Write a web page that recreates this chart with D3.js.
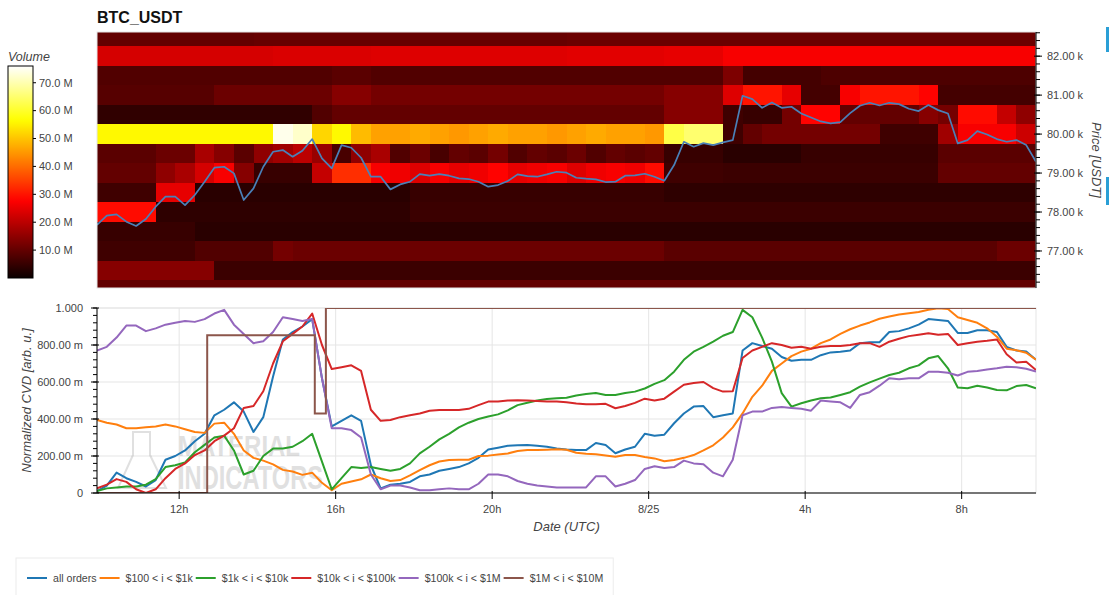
<!DOCTYPE html>
<html><head><meta charset="utf-8">
<script src="https://cdn.jsdelivr.net/npm/d3@7"></script>
<style>
body{margin:0;background:#fff;overflow:hidden;}
svg text{font-family:"Liberation Sans",Arial,Helvetica,sans-serif;}
</style></head><body>
<svg id="chart" width="1109" height="595"></svg>
<script>
// ---------------- DATA ----------------
const startTime = "2024-08-24T09:54:00Z";
const endTime   = "2024-08-25T09:54:00Z";
const sampleStepMinutes = 15;   // CVD + price samples
const heatStepMinutes = 30;     // heatmap columns
const priceBinSize = 500;

const xTickLabels = ["12h","16h","20h","8/25","4h","8h"];
const priceTickValues = [77000,78000,79000,80000,81000,82000];
const priceTickLabels = ["77.00 k","78.00 k","79.00 k","80.00 k","81.00 k","82.00 k"];
const cvdTickValues = [0,0.2,0.4,0.6,0.8,1.0];
const cvdTickLabels = ["0","200.00 m","400.00 m","600.00 m","800.00 m","1.000"];
const volTickValues = [10,20,30,40,50,60,70];
const volTickLabels = ["10.0 M","20.0 M","30.0 M","40.0 M","50.0 M","60.0 M","70.0 M"];
const volMax = 76;

const priceBins = [82500,82000,81500,81000,80500,80000,79500,79000,78500,78000,77500,77000,76500,76000];
// volume (millions) per 30-min column
const vol82500 = [10,10,10,10,10,10,10,10,10.5,10.5,10.5,10.5,10.5,10.5,10.5,10.5,10.5,10.5,10.5,10.5,10.5,10.5,10.5,10.5,11,11,11,11,11,11,11,11,11,11,11,11,11,11,11,11,11,11,11,11,11,11,11,11];
const vol82000 = [23,23,23,23,23,23,23,23,23,23.5,23.5,23.5,23.5,23.5,24,24,24,24,24,24,24,24,24,24,24.5,24.5,24.5,24.5,24.5,25,25,25,27,27,27,27,27,27,27,27,27,27,27,27,27,27,27,27];
const vol81500 = [8,8,8,8,8,8,8,8,8,8,8,8,9,9,8,8,8,8,8,8,8,8,8,8,8,8,8,8,8,8,8,8,13,6.5,6.5,6.5,6.5,7.5,7.5,7.5,7.5,7.5,7.5,7.5,7.5,7.5,7.5,7.5];
const vol81000 = [8.6,8.6,8.6,8.6,8.6,8.6,10.9,10.9,10.9,10.9,11,11,14,14,12,12,12,12,12,12,12,12,12,12,12,12,12,12,12,14,14,14,24,30,30,25,6.5,6.5,27,30,30,30,28,6.5,6.5,6.5,6.5,6.5];
const vol80500 = [4.3,4.3,4.3,4.3,4.3,4.3,4.3,4.3,4.3,4.3,4.3,8,10,10,10,10,10,10,10,10,10,10,10,10,10,10,10,10,10,14,14,14,6,5,5,12,28,28,10,10,10,10,14,12,29,29,21,15];
const vol80000 = [56,56,56,56,56,56,56,56,56,74.5,72,52,56,49,46,46,47,46,45,46,47,46,46,45,46,47,46,46,45,62,65,65,6,10,12,12,12,12,12,12,6,6,6,17,27,27,27,22];
const vol79500 = [9,9,9,11,11,18,14,9,15,17,20,16,7,15,18,8,11,7,10,9,12,8,10,9,11,8,10,9,10,5,5,5,3.5,3.5,3.5,3.5,5,5,5,5,5,5,5,9,9,9,9,9];
const vol79000 = [10,10,10,15,18,23,27,14,5,5,5,21,33,33,27,26,24,27,25,26,28,25,26,27,24,26,27,26,29,6,6,6,5.5,5.5,5.5,5.5,5.5,5.5,5.5,5.5,5.5,5.5,5.5,10,10,10,10,10];
const vol78500 = [6,6,6,25,25,3.5,3.5,3.5,3.5,3.5,3.5,3.5,3.5,3.5,3.5,3.5,5,5,5,5,5,5,5,5,5,5,5,5,5,4,4,4,4,4,4,4,4,4,4,4,4,4,4,4,4,4,4,4];
const vol78000 = [29,29,29,4,4,4,4,4,4,4,4,4,4,4,4,4,5.5,5.5,5.5,5.5,5.5,5.5,5.5,5.5,5.5,5.5,5.5,5.5,5.5,5.5,5.5,5.5,5.5,5.5,5.5,5.5,5.5,5.5,5.5,5.5,5.5,5.5,5.5,5.5,5.5,5.5,5.5,5.5];
const vol77500 = [5,5,5,5,5,3.5,3.5,3.5,3.5,3.5,3.5,3.5,3.5,3.5,3.5,3.5,3.5,3.5,3.5,3.5,3.5,3.5,3.5,3.5,3.5,3.5,3.5,3.5,3.5,3.5,3.5,3.5,3.5,3.5,3.5,3.5,3.5,3.5,3.5,3.5,3.5,3.5,3.5,3.5,3.5,3.5,3.5,3.5];
const vol77000 = [6,6,6,6,6,8,8,8,8,12,11,11,11,11,11,11,11,11,11,11,11,11,11,11,11,11,11,11,11,9,9,9,9,9,9,9,9,9,9,9,9,9,9,9,9,9,11,11];
const vol76500 = [14,14,14,14,14,14,5.5,5.5,5.5,5.5,5.5,5.5,5.5,5.5,5.5,5.5,5.5,5.5,5.5,5.5,5.5,5.5,5.5,5.5,5.5,5.5,5.5,5.5,5.5,5.5,5.5,5.5,5.5,5.5,5.5,5.5,5.5,5.5,5.5,5.5,5.5,5.5,5.5,5.5,5.5,5.5,5.5,5.5];
const vol76000 = [10,10,10,10,10,10,10,10,10,10,10,10,10,10,10,10,10,10,10,10,10,10,10,10,10,10,10,10,10,10,10,10,10,10,10,10,10,10,10,10,10,10,10,10,10,10,10,10];

// BTC price (USDT), 15-min samples
const priceUsdt = [77667,77906,77940,77752,77641,77821,78137,78393,78393,78179,78436,78778,79137,79162,78991,78308,78607,79162,79547,79590,79419,79573,79872,79376,79120,79718,79650,79393,78906,78906,78581,78709,78778,78974,78932,78974,78932,78863,78846,78778,78650,78692,78795,78966,78923,78906,78966,79034,79009,
78880,78855,78838,78769,78778,78932,78940,78983,78906,78803,79205,79803,79675,79769,79718,79786,79846,80983,80897,80675,80812,80675,80701,80530,80427,80325,80273,80308,80538,80726,80803,80735,80803,80769,80650,80590,80744,80615,80530,79761,79846,80077,79991,79872,79803,79846,79718,79291];

// Normalized CVD series, 15-min samples
const cvdAll = [0.01,0.04,0.11,0.08,0.06,0.035,0.07,0.18,0.20,0.23,0.28,0.32,0.42,0.45,0.49,0.44,0.33,0.41,0.63,0.83,0.87,0.90,0.94,0.62,0.36,0.39,0.42,0.39,0.15,
0.025,0.045,0.05,0.06,0.09,0.10,0.12,0.13,0.14,0.16,0.19,0.235,0.245,0.255,0.258,0.26,0.255,0.25,0.24,0.235,0.232,0.232,0.27,0.26,0.215,0.235,0.25,0.32,0.31,0.315,0.377,0.43,0.467,
0.47,0.41,0.42,0.43,0.77,0.81,0.795,0.78,0.735,0.715,0.72,0.72,0.745,0.76,0.764,0.77,0.81,0.815,0.815,0.87,0.875,0.89,0.91,0.94,0.935,0.93,0.865,0.865,0.88,0.88,0.87,0.79,0.77,0.765,0.72];
const cvd100to1k = [0.395,0.38,0.37,0.35,0.35,0.355,0.36,0.37,0.36,0.345,0.33,0.325,0.375,0.38,0.32,0.23,0.19,0.175,0.155,0.125,0.116,0.098,0.11,0.055,0.015,0.05,0.062,0.074,0.10,
0.08,0.065,0.07,0.095,0.124,0.15,0.17,0.178,0.18,0.18,0.20,0.202,0.208,0.214,0.227,0.232,0.232,0.234,0.236,0.234,0.218,0.212,0.21,0.203,0.196,0.205,0.205,0.195,0.187,0.172,0.178,0.19,0.205,
0.23,0.258,0.30,0.355,0.43,0.52,0.58,0.66,0.70,0.74,0.764,0.78,0.81,0.83,0.86,0.885,0.905,0.922,0.942,0.954,0.965,0.971,0.978,0.99,0.998,0.995,0.95,0.935,0.92,0.89,0.845,0.78,0.772,0.758,0.72];
const cvd1kto10k = [0.01,0.025,0.03,0.035,0.035,0.045,0.075,0.14,0.15,0.165,0.22,0.26,0.30,0.31,0.23,0.10,0.12,0.20,0.24,0.24,0.25,0.28,0.32,0.17,0.02,0.08,0.14,0.135,0.14,
0.13,0.12,0.13,0.16,0.214,0.25,0.29,0.32,0.355,0.38,0.40,0.413,0.425,0.447,0.475,0.488,0.50,0.508,0.512,0.515,0.527,0.535,0.54,0.53,0.53,0.54,0.548,0.565,0.59,0.61,0.656,0.72,0.764,
0.79,0.818,0.85,0.87,0.99,0.95,0.84,0.71,0.54,0.467,0.485,0.50,0.512,0.516,0.53,0.545,0.575,0.598,0.618,0.638,0.65,0.674,0.69,0.728,0.74,0.674,0.57,0.566,0.58,0.57,0.557,0.555,0.578,0.584,0.566];
const cvd10kto100k = [0.025,0.045,0.075,0.06,0.02,0.0,0.02,0.08,0.13,0.16,0.205,0.23,0.28,0.31,0.35,0.46,0.47,0.55,0.70,0.82,0.86,0.90,0.97,0.80,0.67,0.68,0.69,0.66,0.45,
0.39,0.395,0.41,0.42,0.43,0.445,0.449,0.449,0.449,0.455,0.475,0.494,0.494,0.50,0.502,0.50,0.497,0.495,0.494,0.49,0.484,0.48,0.48,0.482,0.458,0.47,0.487,0.51,0.50,0.51,0.548,0.585,0.595,
0.60,0.567,0.548,0.55,0.73,0.77,0.79,0.81,0.80,0.785,0.79,0.78,0.79,0.795,0.795,0.80,0.81,0.81,0.79,0.818,0.834,0.848,0.855,0.863,0.855,0.86,0.80,0.81,0.818,0.823,0.83,0.75,0.705,0.71,0.665];
const cvd100kto1M = [0.77,0.79,0.84,0.905,0.905,0.875,0.89,0.91,0.92,0.93,0.925,0.94,0.97,0.99,0.91,0.86,0.81,0.82,0.87,0.95,0.94,0.93,0.94,0.62,0.35,0.35,0.34,0.30,0.10,
0.02,0.04,0.04,0.03,0.015,0.015,0.02,0.025,0.02,0.02,0.05,0.10,0.10,0.09,0.065,0.05,0.04,0.035,0.03,0.03,0.03,0.03,0.09,0.09,0.035,0.05,0.07,0.13,0.145,0.135,0.14,0.175,0.16,
0.155,0.11,0.09,0.18,0.42,0.44,0.44,0.46,0.465,0.46,0.455,0.445,0.50,0.495,0.49,0.46,0.53,0.545,0.58,0.62,0.615,0.62,0.62,0.655,0.655,0.65,0.635,0.655,0.66,0.668,0.674,0.683,0.68,0.672,0.656];
// $1M < i < $10M is a step series
const cvd1Mto10MTimes = ["2024-08-24T09:54:00Z","2024-08-24T12:43:00Z","2024-08-24T15:28:00Z","2024-08-24T15:45:00Z","2024-08-25T09:54:00Z"];
const cvd1Mto10MValues = [0,0.853,0.43,1.0,1.0];

const legendNames = ["all orders","$100 < i < $1k","$1k < i < $10k","$10k < i < $100k","$100k < i < $1M","$1M < i < $10M"];
const seriesColors = ["#1f77b4","#ff7f0e","#2ca02c","#d62728","#9467bd","#8c564b"];

// ---------------- DRAW ----------------
const svg = d3.select("#chart");
const t0 = new Date(startTime), t1 = new Date(endTime);
const x = d3.scaleUtc().domain([t0, t1]).range([97, 1036]);
const yP = d3.scaleLinear().domain([76050, 82620]).range([288, 32]);
const yC = d3.scaleLinear().domain([0, 1]).range([493, 308]);
const yV = d3.scaleLinear().domain([0, volMax]).range([278, 66]);
const [xL, xR] = x.range();
const sampleTime = i => d3.utcMinute.offset(t0, i * sampleStepMinutes);
const colTime = c => d3.utcMinute.offset(t0, c * heatStepMinutes);

function hot(v) {
  const s = Math.max(0, Math.min(1, v / volMax));
  const r = Math.min(1, 0.0416 + s / 0.365079 * (1 - 0.0416));
  const g = Math.max(0, Math.min(1, (s - 0.365079) / (0.746032 - 0.365079)));
  const b = Math.max(0, Math.min(1, (s - 0.746032) / (1 - 0.746032)));
  return d3.rgb(r * 255, g * 255, b * 255).toString();
}

svg.append("rect").attr("width", 1109).attr("height", 595).attr("fill", "#fff");
const defs = svg.append("defs");
defs.append("clipPath").attr("id", "clipTop").append("rect")
  .attr("x", xL).attr("y", yP.range()[1]).attr("width", xR - xL).attr("height", yP.range()[0] - yP.range()[1]);
defs.append("clipPath").attr("id", "clipBot").append("rect")
  .attr("x", xL).attr("y", yC.range()[1]).attr("width", xR - xL).attr("height", yC.range()[0] - yC.range()[1]);

// title
svg.append("text").attr("x", 97).attr("y", 23).attr("font-size", 16).attr("font-weight", "bold")
  .attr("fill", "#111").text("BTC_USDT");

// ---- heatmap ----
const volumeRows = [vol82500, vol82000, vol81500, vol81000, vol80500, vol80000, vol79500, vol79000, vol78500, vol78000, vol77500, vol77000, vol76500, vol76000];
const heatCells = [];
priceBins.forEach((p, r) => volumeRows[r].forEach((v, c) => heatCells.push({ p, c, v })));
const gTop = svg.append("g").attr("clip-path", "url(#clipTop)");
gTop.selectAll("rect.cell").data(heatCells).join("rect").attr("class", "cell")
  .attr("x", d => x(colTime(d.c)))
  .attr("width", d => x(colTime(d.c + 1)) - x(colTime(d.c)) + 0.5)
  .attr("y", d => yP(d.p + priceBinSize / 2))
  .attr("height", d => yP(d.p - priceBinSize / 2) - yP(d.p + priceBinSize / 2) + 0.5)
  .attr("fill", d => hot(d.v))
  .attr("shape-rendering", "crispEdges");
gTop.append("path").datum(priceUsdt)
  .attr("d", d3.line().x((d, i) => x(sampleTime(i))).y(d => yP(d)))
  .attr("fill", "none").attr("stroke", "#4a80b8").attr("stroke-width", 1.7).attr("stroke-linejoin", "round");
svg.append("rect").attr("x", xL).attr("y", yP.range()[1]).attr("width", xR - xL).attr("height", yP.range()[0] - yP.range()[1])
  .attr("fill", "none").attr("stroke", "#e5e5e5").attr("stroke-width", 1);

// right price axis
const gPA = svg.append("g").attr("transform", `translate(${xR},0)`);
gPA.append("line").attr("x1", 0).attr("x2", 0).attr("y1", yP.range()[1]).attr("y2", yP.range()[0]).attr("stroke", "#000");
gPA.selectAll("line.minor").data(d3.range(76200, 82601, 200)).join("line").attr("class", "minor")
  .attr("x1", 0).attr("x2", 4).attr("y1", d => yP(d)).attr("y2", d => yP(d)).attr("stroke", "#000");
gPA.selectAll("line.major").data(priceTickValues).join("line").attr("class", "major")
  .attr("x1", -2).attr("x2", 6).attr("y1", d => yP(d)).attr("y2", d => yP(d)).attr("stroke", "#000");
gPA.selectAll("text").data(priceTickValues).join("text")
  .attr("x", 11).attr("y", d => yP(d)).attr("dy", "0.35em").attr("font-size", 11).attr("fill", "#444")
  .text((d, i) => priceTickLabels[i]);
svg.append("text").attr("transform", `translate(1092,${(yP.range()[0] + yP.range()[1]) / 2}) rotate(90)`)
  .attr("text-anchor", "middle").attr("font-size", 13).attr("font-style", "italic").attr("fill", "#444")
  .text("Price [USDT]");

// toolbar remnants
svg.append("rect").attr("x", 1106).attr("y", 27).attr("width", 3).attr("height", 25).attr("fill", "#2a9fd6");
svg.append("rect").attr("x", 1106).attr("y", 177).attr("width", 3).attr("height", 28).attr("fill", "#2a9fd6");

// colorbar
const grad = defs.append("linearGradient").attr("id", "hotGrad").attr("x1", 0).attr("x2", 0).attr("y1", 1).attr("y2", 0);
d3.range(0, 1.0001, 0.02).forEach(f => grad.append("stop").attr("offset", f).attr("stop-color", hot(f * volMax)));
svg.append("rect").attr("x", 8).attr("y", yV.range()[1]).attr("width", 25).attr("height", yV.range()[0] - yV.range()[1])
  .attr("fill", "url(#hotGrad)").attr("stroke", "#000").attr("stroke-width", 1);
svg.selectAll("line.cbt").data(volTickValues).join("line").attr("class", "cbt")
  .attr("x1", 33).attr("x2", 36).attr("y1", d => yV(d)).attr("y2", d => yV(d)).attr("stroke", "#000");
svg.selectAll("text.cbl").data(volTickValues).join("text").attr("class", "cbl")
  .attr("x", 39).attr("y", d => yV(d)).attr("dy", "0.35em").attr("font-size", 11).attr("fill", "#444")
  .text((d, i) => volTickLabels[i]);
svg.append("text").attr("x", 8).attr("y", 61).attr("font-size", 12.5).attr("font-style", "italic").attr("fill", "#444").text("Volume");

// ---- bottom CVD chart ----
const xTicks = d3.utcHour.every(4).range(t0, t1);
const gGrid = svg.append("g");
gGrid.selectAll("line.vg").data(xTicks).join("line").attr("class", "vg")
  .attr("x1", d => x(d)).attr("x2", d => x(d)).attr("y1", yC.range()[1]).attr("y2", yC.range()[0]).attr("stroke", "#e5e5e5");
gGrid.selectAll("line.hg").data(cvdTickValues).join("line").attr("class", "hg")
  .attr("x1", xL).attr("x2", xR).attr("y1", d => yC(d)).attr("y2", d => yC(d)).attr("stroke", "#e5e5e5");
svg.append("rect").attr("x", xL).attr("y", yC.range()[1]).attr("width", xR - xL).attr("height", yC.range()[0] - yC.range()[1])
  .attr("fill", "none").attr("stroke", "#e5e5e5");

// watermark
const gW = svg.append("g").attr("opacity", 0.3).attr("fill", "#9a9a9a");
gW.append("text").attr("x", 178).attr("y", 456).attr("font-size", 30).attr("font-weight", "bold")
  .attr("textLength", 122).attr("lengthAdjust", "spacingAndGlyphs").text("MATERIAL");
gW.append("text").attr("x", 178).attr("y", 489).attr("font-size", 33).attr("font-weight", "bold")
  .attr("textLength", 145).attr("lengthAdjust", "spacingAndGlyphs").text("INDICATORS");
gW.append("path").attr("d", "M133,432 L150,432 L150,455 L166,488 L118,488 L133,455 Z")
  .attr("fill", "none").attr("stroke", "#9a9a9a").attr("stroke-width", 2);

// lines
const gLines = svg.append("g").attr("clip-path", "url(#clipBot)");
const sampledSeries = [cvdAll, cvd100to1k, cvd1kto10k, cvd10kto100k, cvd100kto1M];
const cvdLine = d3.line().x((d, i) => x(sampleTime(i))).y(d => yC(d));
sampledSeries.forEach((s, k) => {
  gLines.append("path").datum(s).attr("d", cvdLine)
    .attr("fill", "none").attr("stroke", seriesColors[k]).attr("stroke-width", 2).attr("stroke-linejoin", "round");
});
const stepData = cvd1Mto10MTimes.map((t, i) => ({ t: new Date(t), v: cvd1Mto10MValues[i] }));
gLines.append("path").datum(stepData)
  .attr("d", d3.line().curve(d3.curveStepAfter).x(d => x(d.t)).y(d => yC(d.v)))
  .attr("fill", "none").attr("stroke", seriesColors[5]).attr("stroke-width", 2);

// bottom x axis
const gX = svg.append("g");
gX.append("line").attr("x1", xL).attr("x2", xR).attr("y1", yC.range()[0]).attr("y2", yC.range()[0]).attr("stroke", "#000");
gX.selectAll("line.t").data(xTicks).join("line").attr("class", "t")
  .attr("x1", d => x(d)).attr("x2", d => x(d)).attr("y1", yC.range()[0] - 2).attr("y2", yC.range()[0] + 6).attr("stroke", "#000");
gX.selectAll("text").data(xTicks).join("text")
  .attr("x", d => x(d)).attr("y", yC.range()[0] + 20).attr("text-anchor", "middle").attr("font-size", 11).attr("fill", "#444")
  .text((d, i) => xTickLabels[i]);
svg.append("text").attr("x", (xL + xR) / 2).attr("y", 531).attr("text-anchor", "middle")
  .attr("font-size", 13).attr("font-style", "italic").attr("fill", "#444").text("Date (UTC)");

// left y axis
const gY = svg.append("g");
gY.append("line").attr("x1", xL).attr("x2", xL).attr("y1", yC.range()[1]).attr("y2", yC.range()[0]).attr("stroke", "#000");
gY.selectAll("line.mn").data(d3.range(0, 1.0001, 0.04)).join("line").attr("class", "mn")
  .attr("x1", xL - 4).attr("x2", xL).attr("y1", d => yC(d)).attr("y2", d => yC(d)).attr("stroke", "#000");
gY.selectAll("line.mj").data(cvdTickValues).join("line").attr("class", "mj")
  .attr("x1", xL - 6).attr("x2", xL + 2).attr("y1", d => yC(d)).attr("y2", d => yC(d)).attr("stroke", "#000");
gY.selectAll("text").data(cvdTickValues).join("text")
  .attr("x", xL - 14).attr("y", d => yC(d)).attr("dy", "0.35em").attr("text-anchor", "end")
  .attr("font-size", 11).attr("fill", "#444").text((d, i) => cvdTickLabels[i]);
svg.append("text").attr("transform", `translate(31,${(yC.range()[0] + yC.range()[1]) / 2}) rotate(-90)`)
  .attr("text-anchor", "middle").attr("font-size", 13).attr("font-style", "italic").attr("fill", "#444")
  .text("Normalized CVD [arb. u.]");

// legend
const gLeg = svg.append("g");
const legBox = gLeg.append("rect").attr("x", 16).attr("y", 558).attr("height", 42)
  .attr("fill", "#fff").attr("stroke", "#ececec");
let lx = 27;
legendNames.forEach((n, i) => {
  gLeg.append("line").attr("x1", lx).attr("x2", lx + 20).attr("y1", 578).attr("y2", 578)
    .attr("stroke", seriesColors[i]).attr("stroke-width", 2);
  const t = gLeg.append("text").attr("x", lx + 26).attr("y", 581.5).attr("font-size", 10.6).attr("fill", "#444").text(n);
  lx += 26 + t.node().getComputedTextLength() + 3;
});
legBox.attr("width", lx + 7 - 16);
</script>
</body></html>
